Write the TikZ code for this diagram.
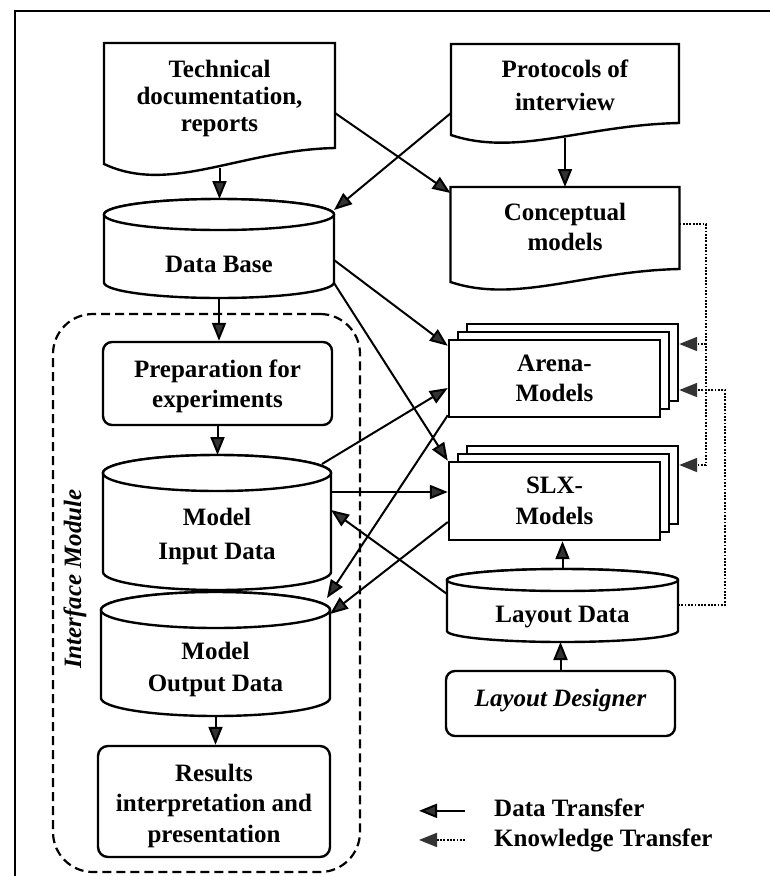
\documentclass[tikz,border=0pt]{standalone}
\usepackage{fontspec}
\setmainfont{Liberation Serif}
\usetikzlibrary{arrows.meta,calc}
\definecolor{tipg}{HTML}{333333}
\newcommand\docshape[6]{%
  \filldraw[shp] (#1,#3) -- (#2,#3) -- (#2,#5)
    .. controls ({#1+0.589*(#2-#1)},{#5+2}) and ({#1+0.286*(#2-#1)},{#4+#6}) .. (#1,#4) -- cycle;}
\newcommand\cylshape[5]{%
  \filldraw[shp] ({#1-#2},#3) -- ({#1-#2},#4)
    arc[start angle=180,end angle=0,x radius=#2,y radius=#5] -- ({#1+#2},#3)
    arc[start angle=0,end angle=-180,x radius=#2,y radius=#5] -- cycle;
  \draw[shp] (#1,#3) ellipse [x radius=#2,y radius=#5];}
\tikzset{
  shp/.style={line width=2.4pt, draw=black, fill=white},
  frame/.style={draw=none, inner sep=0pt, outer sep=0pt},
  txt/.style={font={\bfseries\fontsize{25}{#1}\selectfont}, align=center, inner sep=0pt},
  txt/.default=30,
  darrow/.style={line width=2pt, -{Triangle[length=18pt,width=14pt,fill=tipg]}},
  kline/.style={line width=1.8pt, dash pattern=on 1.8pt off 1.5pt},
  karrow/.style={kline, -{Triangle[length=18pt,width=14pt,fill=tipg,color=tipg]}},
}
\begin{document}
\begin{tikzpicture}[x=1pt,y=-1pt]
\useasboundingbox (0,0) rectangle (770,876);
\draw[line width=2.2pt] (15,878) -- (15,11) -- (772,11);

% interface module region
\node[draw, line width=2.2pt, dash pattern=on 9pt off 5pt, rounded corners=40pt,
      minimum width=307pt, minimum height=558pt, inner sep=0pt] (iface) at (206.5,593) {};
\node[font={\bfseries\itshape\fontsize{25}{30}\selectfont}, rotate=90, inner sep=0pt] (ifl) at (75,579) {Interface Module};

% documents
\docshape{104}{335}{43}{164}{148}{31}
\node[frame, minimum width=231pt, minimum height=130pt] (tech) at (219.5,108) {};
\node[txt=27] (techt) at (219.5,98) {Technical\\documentation,\\reports};

\docshape{451}{679}{44}{135}{123}{22}
\node[frame, minimum width=228pt, minimum height=98pt] (prot) at (565,93) {};
\node[txt=33] (prott) at (565,85) {Protocols of\\interview};

\docshape{450.5}{679.5}{187}{282}{269}{22}
\node[frame, minimum width=229pt, minimum height=101pt] (concept) at (565,237.5) {};
\node[txt=30] (conct) at (565,226.5) {Conceptual\\models};

% data base
\cylshape{219}{115}{214.5}{282.5}{15.5}
\node[frame, minimum width=230pt, minimum height=99pt] (db) at (219,248.5) {};
\node[txt, anchor=base] (dbt) at (219,272) {Data Base};

% preparation
\node[shp, rounded corners=9pt, minimum width=229pt, minimum height=83pt, inner sep=0pt] (prep) at (217.5,383.5) {};
\node[txt=30] (prept) at (217.5,386) {Preparation for\\experiments};

% model input
\cylshape{217}{114}{473}{572}{18}
\node[frame, minimum width=228pt, minimum height=135pt] (input) at (217,522.5) {};
\node[txt=34] (inputt) at (217,536) {Model\\Input Data};

% model output
\cylshape{215.5}{114.5}{610}{698}{18}
\node[frame, minimum width=229pt, minimum height=124pt] (output) at (215.5,654) {};
\node[txt=32] (outputt) at (215.5,669) {Model\\Output Data};

% results
\node[shp, rounded corners=10pt, minimum width=232pt, minimum height=111pt, inner sep=0pt] (results) at (214,801.5) {};
\node[txt=30.5] (resultst) at (214,805.5) {Results\\interpretation and\\presentation};

% arena stack
\node[shp, minimum width=211pt, minimum height=77pt, inner sep=0pt] (arena3) at (572.5,362.5) {};
\node[shp, minimum width=211pt, minimum height=77pt, inner sep=0pt] (arena2) at (563.5,370.5) {};
\node[shp, minimum width=211pt, minimum height=77pt, inner sep=0pt] (arena) at (554.5,378.5) {};
\node[txt=30] (arenat) at (554.5,378.5) {Arena-\\Models};

% slx stack
\node[shp, minimum width=211pt, minimum height=78pt, inner sep=0pt] (slx3) at (572.5,485) {};
\node[shp, minimum width=211pt, minimum height=78pt, inner sep=0pt] (slx2) at (563.5,493) {};
\node[shp, minimum width=211pt, minimum height=78pt, inner sep=0pt] (slx) at (554.5,501) {};
\node[txt=31] (slxt) at (554.5,501) {SLX-\\Models};

% layout data
\cylshape{562.5}{115.5}{580}{631}{11}
\node[frame, minimum width=231pt, minimum height=73pt] (layout) at (562.5,605.5) {};
\node[txt, anchor=base] (layoutt) at (562.5,622) {Layout Data};

% layout designer
\node[shp, rounded corners=9pt, minimum width=229pt, minimum height=65pt, inner sep=0pt] (designer) at (560.5,703.5) {};
\node[font={\bfseries\itshape\fontsize{25}{30}\selectfont}, inner sep=0pt, anchor=base] (designert) at (560.5,706) {Layout Designer};

% data transfer connectors
\draw[darrow] ([yshift=5pt]tech.south) -- (tech.south |- db.north);
\draw[darrow] ([yshift=4pt]prot.south) -- (prot.south |- concept.north);
\draw[darrow] ([yshift=-5pt]tech.east) -- ([yshift=-6pt]concept.north west);
\draw[darrow] ([yshift=-20pt]prot.west) -- ([yshift=-11pt]db.north east);
\draw[darrow] (db.south) -- (db.south |- prep.north);
\draw[darrow] (prep.south) -- (prep.south |- input.north);
\draw[darrow] (output.south) -- (output.south |- results.north);
\draw[darrow] (layout.north) -- (layout.north |- slx.south);
\draw[darrow] (designer.north) -- (designer.north |- layout.south);
\draw[darrow] ([yshift=-11.5pt]db.east) -- ([yshift=-7pt]arena.north west);
\draw[darrow] ([yshift=-34.5pt]db.east) -- (slx.north west);
\draw[darrow] ([xshift=-9pt,yshift=-9pt]input.north east) -- ([yshift=-9.5pt]arena.west);
\draw[darrow] ([yshift=3pt]arena.south west) -- ([xshift=-3pt,yshift=-6pt]output.north east);
\draw[darrow] ([yshift=30.5pt]input.east) -- ([yshift=30.5pt]input.east -| slx.west);
\draw[darrow] ([yshift=-21pt]slx.west) -- ([yshift=40pt]output.east);
\draw[darrow] ([yshift=11.5pt]layout.west) -- ([yshift=12.5pt]input.east);

% knowledge transfer connectors
\coordinate (kA) at (706,224);
\coordinate (kB) at (706,465);
\coordinate (kC) at (706,344);
\coordinate (kD) at (725,605);
\coordinate (kE) at (725,390);
\draw[kline] (concept.east |- kA) -- (kA) -- (kB);
\draw[karrow] (kB) -- (kB -| slx3.east);
\draw[karrow] (kC) -- (kC -| arena3.east);
\draw[karrow] (layout.east |- kD) -- (kD) -- (kE) -- (kE -| arena3.east);

% legend
\node[txt, anchor=base west] (lg1) at (494,816) {Data Transfer};
\node[txt, anchor=base west] (lg2) at (494,846) {Knowledge Transfer};
\draw[darrow] ([xshift=-29pt,yshift=-3.5pt]lg1.west) -- ++(-46,0);
\draw[karrow] ([xshift=-29pt]lg2.west) -- ++(-46,0);
\end{tikzpicture}
\end{document}
